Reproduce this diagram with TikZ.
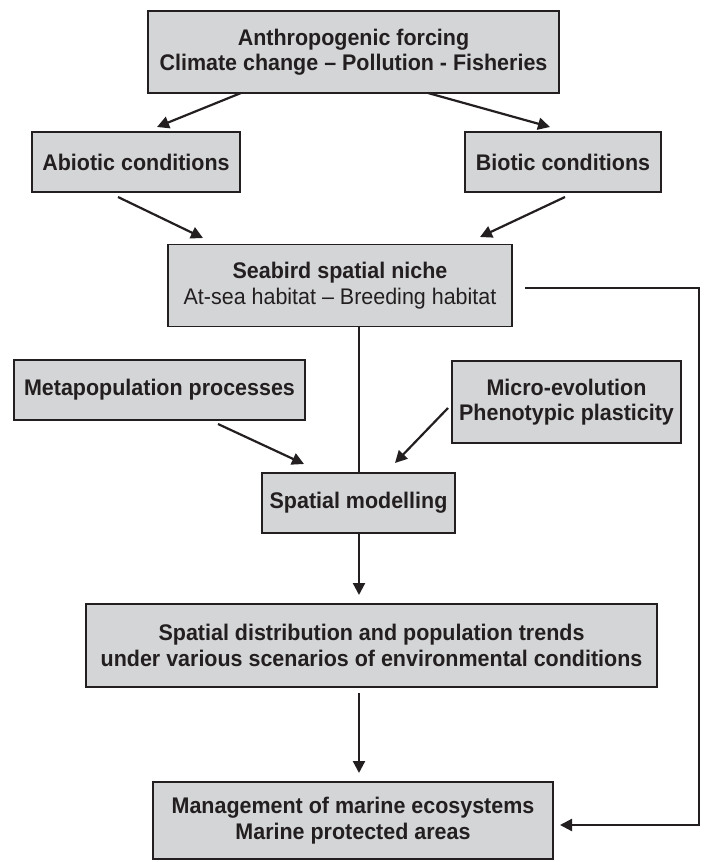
\documentclass[tikz,border=0pt]{standalone}
\usepackage{fontspec}
\setmainfont{Liberation Sans}[FakeStretch=0.95]
\usetikzlibrary{arrows.meta}
\definecolor{boxfill}{RGB}{212,213,215}
\definecolor{ink}{RGB}{35,31,32}
\begin{document}
\begin{tikzpicture}[x=1pt,y=-1pt,
  box/.style={draw=ink, fill=boxfill, line width=1.9pt, inner sep=0pt, align=center, text=ink,
    font=\fontsize{22.6}{25.5}\selectfont\bfseries},
  arr/.style={draw=ink, line width=2.2pt, -{Triangle[length=12pt,width=12pt]}},
  ln/.style={draw=ink, line width=2.2pt}]
\useasboundingbox (0,0) rectangle (705,862);

\node[box, minimum width=411pt, minimum height=82pt] (top) at (353.5,52)
  {Anthropogenic forcing\\Climate change – Pollution - Fisheries};
\node[box, minimum width=208pt, minimum height=60pt] (abio) at (136,162) {Abiotic conditions};
\node[box, minimum width=196pt, minimum height=60pt] (bio) at (563,162) {Biotic conditions};
\node[box, minimum width=344pt, minimum height=82pt] (niche) at (340,285.5)
  {Seabird spatial niche\\\mdseries At-sea habitat – Breeding habitat};
\node[box, minimum width=291pt, minimum height=60pt] (meta) at (159.5,390) {Metapopulation processes};
\node[box, minimum width=229pt, minimum height=82pt] (micro) at (566.5,402)
  {Micro-evolution\\Phenotypic plasticity};
\node[box, minimum width=193pt, minimum height=60pt] (model) at (358.5,503) {Spatial modelling};
\node[box, minimum width=571pt, minimum height=83pt] (distr) at (371.5,645.5)
  {Spatial distribution and population trends\\under various scenarios of environmental conditions};
\node[box, minimum width=400pt, minimum height=77pt] (manage) at (353,820.5)
  {Management of marine ecosystems\\Marine protected areas};

% arrow end points
\coordinate (a1s) at (241,93);  \coordinate (a1e) at (157,127);
\coordinate (a2s) at (428,93);  \coordinate (a2e) at (550,127);
\coordinate (a3s) at (118,197); \coordinate (a3e) at (203,238);
\coordinate (a4s) at (565,197); \coordinate (a4e) at (480,237);
\coordinate (a5s) at (218,424); \coordinate (a5e) at (304,464);
\coordinate (a6s) at (448,408); \coordinate (a6e) at (395,463);
\coordinate (a7e) at (359,595);
\coordinate (a8s) at (359,693); \coordinate (a8e) at (359,773);
\coordinate (fbs) at (525,288); \coordinate (fbc) at (699,288);
\coordinate (fbd) at (699,825); \coordinate (fbe) at (560,825);
\coordinate (v1s) at (359,327); \coordinate (v1e) at (359,473);
\coordinate (v2s) at (359,533);

\draw[arr] (a1s) -- (a1e);
\draw[arr] (a2s) -- (a2e);
\draw[arr] (a3s) -- (a3e);
\draw[arr] (a4s) -- (a4e);
\draw[ln] (v1s) -- (v1e);
\draw[arr] (a5s) -- (a5e);
\draw[arr] (a6s) -- (a6e);
\draw[arr] (v2s) -- (a7e);
\draw[arr] (a8s) -- (a8e);
\draw[arr, line join=miter] (fbs) -- (fbc) -- (fbd) -- (fbe);
\end{tikzpicture}
\end{document}
